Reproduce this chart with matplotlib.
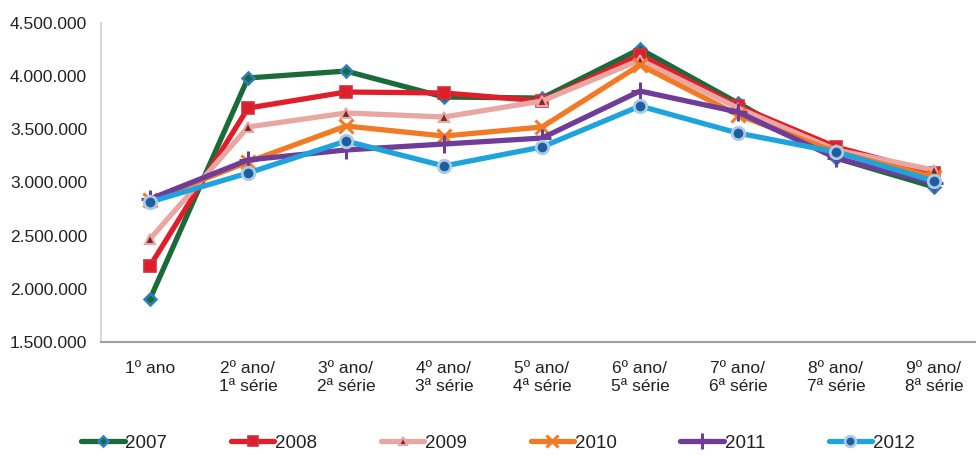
import matplotlib
matplotlib.use("Agg")
import matplotlib.pyplot as plt
from matplotlib.ticker import FuncFormatter

plt.rcParams['font.family'] = ['Liberation Sans', 'DejaVu Sans']

categories = ["1º ano", "2º ano/\n1ª série", "3º ano/\n2ª série", "4º ano/\n3ª série",
              "5º ano/\n4ª série", "6º ano/\n5ª série", "7º ano/\n6ª série",
              "8º ano/\n7ª série", "9º ano/\n8ª série"]

years = ["2007", "2008", "2009", "2010", "2011", "2012"]

v2007 = [1904000, 3983000, 4048000, 3804000, 3794000, 4255000, 3747000, 3230000, 2958000]
v2008 = [2215000, 3700000, 3851000, 3842000, 3766000, 4199000, 3719000, 3334000, 3089000]
v2009 = [2468000, 3522000, 3654000, 3616000, 3766000, 4152000, 3700000, 3306000, 3117000]
v2010 = [2835000, 3193000, 3531000, 3437000, 3522000, 4105000, 3635000, 3287000, 3052000]
v2011 = [2845000, 3212000, 3306000, 3362000, 3418000, 3860000, 3663000, 3230000, 2995000]
v2012 = [2817000, 3089000, 3390000, 3155000, 3334000, 3719000, 3465000, 3287000, 3014000]

series = [v2007, v2008, v2009, v2010, v2011, v2012]

styles = [
    dict(color="#1b6b3a", marker="D", ms=6, mfc="#1b6b3a", mec="#2e7fc0", mew=1.8),
    dict(color="#e21d2b", marker="s", ms=9, mfc="#e21d2b", mec="#c9343e", mew=1.2),
    dict(color="#e8a7a3", marker="^", ms=7, mfc="#7b2a2c", mec="#e8a7a3", mew=1.5),
    dict(color="#f27a25", marker="x", ms=10, mfc="#f27a25", mec="#f27a25", mew=2.2),
    dict(color="#6f3d98", marker="+", ms=13, mfc="#6f3d98", mec="#6f3d98", mew=2.2),
    dict(color="#1ea3dd", marker="o", ms=9, mfc="#1f5e9e", mec="#a9cbe8", mew=2.0),
]

fig = plt.figure(figsize=(9.76, 4.55), dpi=100)
x0, x1 = 101, 976
ax = fig.add_axes([x0 / 976, (455 - 342) / 455, (x1 - x0) / 976, 319 / 455])

xs = list(range(len(categories)))
for label, vals, st in zip(years, series, styles):
    ax.plot(xs, vals, lw=3.8, label=label, solid_capstyle="round",
            solid_joinstyle="round", **st)

ax.set_xlim(-0.5, -0.5 + (x1 - x0) / 98.0)
ax.set_ylim(1500000, 4500000)
ax.set_yticks(range(1500000, 4500001, 500000))
ax.yaxis.set_major_formatter(FuncFormatter(lambda v, p: f"{int(v):,}".replace(",", ".")))
ax.set_xticks(xs)
ax.set_xticklabels(categories, fontsize=12.5, color="#222222", linespacing=1.25)
ax.tick_params(axis="y", labelsize=12.5, length=0, pad=10, labelcolor="#222222")
ax.tick_params(axis="x", length=0, pad=14)

for s in ["top", "right"]:
    ax.spines[s].set_visible(False)
ax.spines["left"].set_color("#d9d9d9")
ax.spines["left"].set_linewidth(1.5)
ax.spines["bottom"].set_color("#a0a0a0")
ax.spines["bottom"].set_linewidth(1.5)
ax.spines["left"].set_position(("data", -0.5))

leg = fig.legend(loc="center", bbox_to_anchor=(498 / 976, 1 - 443 / 455), ncol=6,
                 frameon=False, fontsize=13.5, handlelength=2.3, handletextpad=0.05,
                 columnspacing=3.4, markerscale=0.85)
for t in leg.get_texts():
    t.set_color("#222222")

fig.savefig("out.png", dpi=100)
